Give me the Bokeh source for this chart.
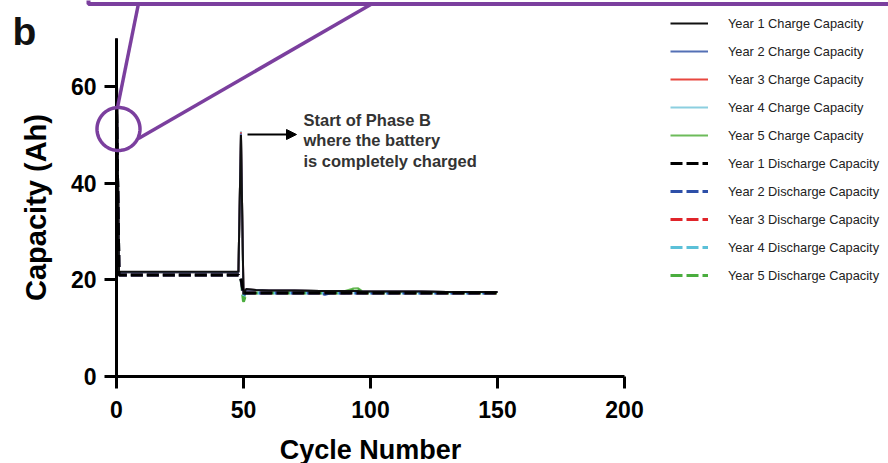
import numpy as np
from bokeh.plotting import figure
from bokeh.models import (Range1d, FixedTicker, Legend, LegendItem, Label, Arrow,
                          NormalHead, BoxAnnotation, PolyAnnotation)
from bokeh.embed import file_html
from bokeh.resources import INLINE

# ---------------- data ----------------
cycles = [0, 1, 10, 20, 30, 40, 47, 48, 49, 50, 51, 55, 60, 70, 80, 82, 84,
          90, 93, 95, 97, 100, 110, 120, 130, 140, 150]

charge_y1 = [70.0, 21.7, 21.7, 21.7, 21.7, 21.7, 21.7, 21.7, 50.0, 17.0, 18.1, 17.9, 17.8, 17.8, 17.7, 17.7, 17.7,
             17.7, 17.7, 17.7, 17.6, 17.6, 17.6, 17.6, 17.5, 17.5, 17.5]
charge_y2 = [70.0, 21.6, 21.6, 21.6, 21.6, 21.6, 21.6, 21.6, 50.3, 16.5, 18.0, 17.9, 17.8, 17.8, 17.7, 17.1, 17.7,
             17.7, 17.7, 17.7, 17.6, 17.6, 17.6, 17.6, 17.5, 17.5, 17.5]
charge_y3 = [70.0, 21.6, 21.6, 21.6, 21.6, 21.6, 21.6, 21.6, 50.6, 16.8, 18.0, 17.9, 17.8, 17.8, 17.7, 17.7, 17.7,
             17.7, 17.7, 17.7, 17.6, 17.6, 17.6, 17.6, 17.5, 17.5, 17.5]
charge_y4 = [70.0, 21.6, 21.6, 21.6, 21.6, 21.6, 21.6, 21.6, 50.8, 16.2, 18.0, 17.9, 17.8, 17.8, 17.7, 17.7, 17.7,
             17.7, 17.7, 17.7, 17.6, 17.6, 17.6, 17.6, 17.5, 17.5, 17.5]
charge_y5 = [70.0, 21.6, 21.6, 21.6, 21.6, 21.6, 21.6, 21.6, 50.4, 15.4, 17.9, 17.9, 17.8, 17.8, 17.7, 17.7, 17.7,
             17.7, 18.2, 18.3, 17.6, 17.6, 17.6, 17.6, 17.5, 17.5, 17.5]

discharge_y1 = [55.0, 21.0, 21.0, 21.0, 21.0, 21.0, 21.0, 21.0, 20.3, 17.2, 17.3, 17.3, 17.3, 17.3, 17.3, 17.3, 17.3,
                17.3, 17.3, 17.3, 17.3, 17.3, 17.3, 17.3, 17.3, 17.3, 17.3]
discharge_y2 = [55.0, 21.0, 21.0, 21.0, 21.0, 21.0, 21.0, 21.0, 20.3, 17.0, 17.3, 17.3, 17.3, 17.3, 17.3, 17.0, 17.3,
                17.3, 17.3, 17.3, 17.3, 17.3, 17.3, 17.3, 17.3, 17.3, 17.3]
discharge_y3 = [55.0, 21.0, 21.0, 21.0, 21.0, 21.0, 21.0, 21.0, 20.3, 17.1, 17.3, 17.3, 17.3, 17.3, 17.3, 17.3, 17.3,
                17.3, 17.3, 17.3, 17.3, 17.3, 17.3, 17.3, 17.3, 17.3, 17.3]
discharge_y4 = [55.0, 21.0, 21.0, 21.0, 21.0, 21.0, 21.0, 21.0, 20.3, 16.8, 17.3, 17.3, 17.3, 17.3, 17.3, 17.3, 17.3,
                17.3, 17.3, 17.3, 17.3, 17.3, 17.3, 17.3, 17.3, 17.3, 17.3]
discharge_y5 = [55.0, 21.0, 21.0, 21.0, 21.0, 21.0, 21.0, 21.0, 20.3, 15.5, 17.2, 17.3, 17.3, 17.3, 17.3, 17.3, 17.3,
                17.3, 17.9, 18.0, 17.3, 17.3, 17.3, 17.3, 17.3, 17.3, 17.3]

charge_labels = ["Year 1 Charge Capacity", "Year 2 Charge Capacity", "Year 3 Charge Capacity",
                 "Year 4 Charge Capacity", "Year 5 Charge Capacity"]
discharge_labels = ["Year 1 Discharge Capacity", "Year 2 Discharge Capacity", "Year 3 Discharge Capacity",
                    "Year 4 Discharge Capacity", "Year 5 Discharge Capacity"]
charge_colors = ["#111111", "#5470b5", "#e8473f", "#8ccfe0", "#6dbb5a"]
discharge_colors = ["#000000", "#2d4fa8", "#e0242a", "#5bc0d8", "#4aad3e"]

x_ticks = [0, 50, 100, 150, 200]
y_ticks = [0, 20, 40, 60]
x_axis_extent = (0, 200)
y_axis_extent = (0, 70)

charge_series = [charge_y1, charge_y2, charge_y3, charge_y4, charge_y5]
discharge_series = [discharge_y1, discharge_y2, discharge_y3, discharge_y4, discharge_y5]

# ---------------- layout (pixels) ----------------
W, H = 888, 463
AX_LEFT, AX_RIGHT, AX_TOP, AX_BOTTOM = 116, 624, 38, 376   # pixel box of the axes
sx = (AX_RIGHT - AX_LEFT) / (x_axis_extent[1] - x_axis_extent[0])
sy = (AX_BOTTOM - AX_TOP) / (y_axis_extent[1] - y_axis_extent[0])
x_range = Range1d(x_axis_extent[0] - AX_LEFT / sx, x_axis_extent[0] + (W - AX_LEFT) / sx)
y_range = Range1d(y_axis_extent[0] - (H - AX_BOTTOM) / sy, y_axis_extent[0] + AX_BOTTOM / sy)


def px(xp):
    return x_axis_extent[0] + (xp - AX_LEFT) / sx


def py(yp):
    return y_axis_extent[0] + (AX_BOTTOM - yp) / sy


FONT = "Liberation Sans"
PURPLE = "#7b3f9e"

p = figure(width=W, height=H, output_backend="svg", toolbar_location=None,
           x_range=x_range, y_range=y_range,
           min_border_left=0, min_border_right=0, min_border_top=0, min_border_bottom=0)
p.outline_line_color = None
p.grid.visible = False
p.background_fill_color = "white"
p.border_fill_color = "white"

for ax in (p.xaxis[0], p.yaxis[0]):
    ax.axis_line_width = 3
    ax.axis_line_color = "black"
    ax.major_tick_line_width = 3
    ax.major_tick_line_color = "black"
    ax.major_tick_out = 12
    ax.major_tick_in = 0
    ax.minor_tick_line_color = None
    ax.major_label_text_font = FONT
    ax.major_label_text_font_style = "bold"
    ax.major_label_text_font_size = "23px"
    ax.major_label_text_color = "black"
    ax.axis_label_text_font = FONT
    ax.axis_label_text_font_style = "bold"
    ax.axis_label_text_color = "black"

p.xaxis.fixed_location = 0
p.yaxis.fixed_location = 0
p.xaxis.bounds = x_axis_extent
p.yaxis.bounds = y_axis_extent
p.xaxis.ticker = FixedTicker(ticks=x_ticks)
p.yaxis.ticker = FixedTicker(ticks=y_ticks)
p.xaxis.axis_label = "Cycle Number"
p.yaxis.axis_label = "Capacity (Ah)"
p.xaxis.axis_label_text_font_size = "27px"
p.yaxis.axis_label_text_font_size = "29px"
p.xaxis.major_label_standoff = 12
p.yaxis.major_label_standoff = 8
p.xaxis.axis_label_standoff = 14
p.yaxis.axis_label_standoff = 16

charge_r = [None] * 5
discharge_r = [None] * 5
# coloured years first, year 1 on top
for i in [4, 3, 2, 1]:
    charge_r[i] = p.line(cycles, charge_series[i], line_color=charge_colors[i], line_width=2)
for i in [4, 3, 2, 1]:
    discharge_r[i] = p.line(cycles, discharge_series[i], line_color=discharge_colors[i],
                            line_width=3, line_dash="12 4")
charge_r[0] = p.line(cycles, charge_series[0], line_color=charge_colors[0], line_width=2)
discharge_r[0] = p.line(cycles, discharge_series[0], line_color=discharge_colors[0],
                        line_width=3, line_dash="12 4")

items = [LegendItem(label=l, renderers=[r]) for l, r in zip(charge_labels, charge_r)]
items += [LegendItem(label=l, renderers=[r]) for l, r in zip(discharge_labels, discharge_r)]
LEG_LEFT, LEG_TOP, LEG_H = 660, 3, 292
legend = Legend(items=items, location=(LEG_LEFT, H - LEG_TOP - LEG_H), margin=0, padding=10, spacing=8,
                label_height=20, glyph_height=20, glyph_width=38, label_standoff=20,
                label_text_font=FONT, label_text_font_size="12.8px", label_text_color="#222222",
                border_line_alpha=0, background_fill_alpha=0)
p.add_layout(legend, "center")

# annotation: phase B
p.add_layout(Arrow(x_start=px(247), y_start=py(134), x_end=px(296), y_end=py(134), line_width=2,
                   line_color="black", end=NormalHead(size=10, fill_color="black", line_color="black")))
for txt, yp in zip(["Start of Phase B", "where the battery", "is completely charged"], [119, 139.5, 160]):
    p.add_layout(Label(x=px(303), y=py(yp), text=txt, text_font=FONT, text_font_style="bold",
                       text_font_size="16.5px", text_color="#333333", text_baseline="middle"))

# panel letter
p.add_layout(Label(x=px(12), y=py(31), text="b", text_font=FONT, text_font_style="bold",
                   text_font_size="39px", text_color="#111111", text_baseline="middle"))

# purple zoom callout
cxp, cyp, r = 118, 128.5, 21.5
th = np.linspace(0, 2 * np.pi, 97)
p.add_layout(PolyAnnotation(xs=[px(cxp + r * np.cos(t)) for t in th],
                            ys=[py(cyp + r * np.sin(t)) for t in th],
                            fill_alpha=0, line_alpha=1, line_color=PURPLE, line_width=3.5))
p.add_layout(Arrow(x_start=px(138), y_start=py(3), x_end=px(117), y_end=py(107), end=None,
                   line_color=PURPLE, line_width=3.5))
p.add_layout(Arrow(x_start=px(372), y_start=py(3), x_end=px(138), y_end=py(138), end=None,
                   line_color=PURPLE, line_width=3.5))
p.add_layout(BoxAnnotation(left=px(88), right=px(900), bottom=py(3.5), top=py(-20), fill_alpha=0,
                           line_alpha=1, line_color=PURPLE, line_width=4))

open("out.html", "w").write(file_html(p, INLINE))
